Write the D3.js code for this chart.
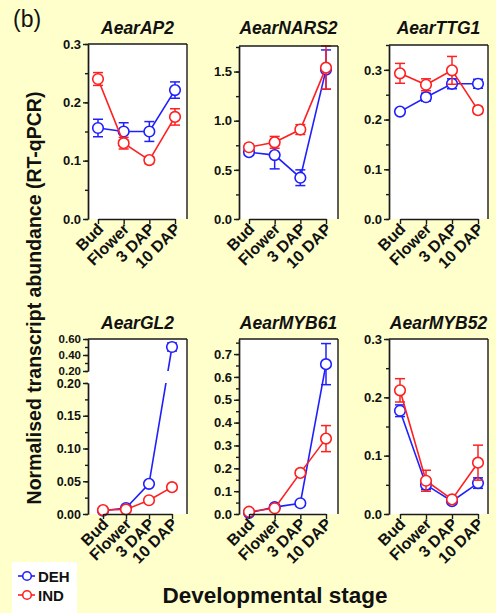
<!DOCTYPE html>
<meta charset="utf-8">
<style>
  body, html { margin:0; padding:0; background:#ffffcc; }
  svg { display:block; }
  text { font-family: "Liberation Sans", Arial, Helvetica, sans-serif; font-weight:bold; fill:#111; }
</style>
<body>
<svg width="496" height="613"></svg>
<script src="https://d3js.org/d3.v7.min.js"></script>
<script>

var stages = ["Bud", "Flower", "3 DAP", "10 DAP"];
var seriesNames = ["DEH", "IND"];

// means and error (+/-) for each gene, DEH then IND
var ap2Deh = [0.156, 0.150, 0.150, 0.221], ap2DehErr = [0.015, 0.015, 0.017, 0.014];
var ap2Ind = [0.240, 0.130, 0.101, 0.175], ap2IndErr = [0.011, 0.010, 0.006, 0.014];

var nars2Deh = [0.68, 0.65, 0.42, 1.52], nars2DehErr = [0.03, 0.14, 0.08, 0.20];
var nars2Ind = [0.73, 0.78, 0.91, 1.54], nars2IndErr = [0.03, 0.06, 0.05, 0.22];

var ttg1Deh = [0.216, 0.245, 0.272, 0.272], ttg1DehErr = [0.004, 0.008, 0.010, 0.009];
var ttg1Ind = [0.293, 0.270, 0.299, 0.219], ttg1IndErr = [0.020, 0.012, 0.028, 0.007];

var gl2Deh = [0.005, 0.009, 0.046, 0.50], gl2DehErr = [0.001, 0.002, 0.002, 0.05];
var gl2Ind = [0.006, 0.007, 0.021, 0.041], gl2IndErr = [0.001, 0.001, 0.002, 0.004];

var myb61Deh = [0.005, 0.030, 0.047, 0.656], myb61DehErr = [0.002, 0.004, 0.004, 0.090];
var myb61Ind = [0.010, 0.025, 0.180, 0.330], myb61IndErr = [0.003, 0.006, 0.012, 0.057];

var myb52Deh = [0.177, 0.050, 0.022, 0.053], myb52DehErr = [0.010, 0.008, 0.003, 0.009];
var myb52Ind = [0.212, 0.057, 0.025, 0.088], myb52IndErr = [0.020, 0.018, 0.004, 0.030];

// y ticks
var ticks01 = [0, 0.1, 0.2, 0.3];
var ticksNars = [0, 0.5, 1.0, 1.5];
var ticksMyb61 = [0, 0.1, 0.2, 0.3, 0.4, 0.5, 0.6, 0.7];
var ticksGl2Low = [0, 0.05, 0.10, 0.15, 0.20];
var ticksGl2High = [0.20, 0.40, 0.60];

var colors = {DEH: "#2020ff", IND: "#ff2020"};

var panels = [
  {gene: "AearAP2", deh: ap2Deh, dehErr: ap2DehErr, ind: ap2Ind, indErr: ap2IndErr,
   x0: 88, y0: 44, max: 0.3, ticks: ticks01, minor: 0.05, fmt: ".1f", pad: [10, 12]},
  {gene: "AearNARS2", deh: nars2Deh, dehErr: nars2DehErr, ind: nars2Ind, indErr: nars2IndErr,
   x0: 239, y0: 46, max: 1.76, ticks: ticksNars, minor: 0.25, fmt: ".1f", pad: [10, 12]},
  {gene: "AearTTG1", deh: ttg1Deh, dehErr: ttg1DehErr, ind: ttg1Ind, indErr: ttg1IndErr,
   x0: 389, y0: 45, max: 0.35, ticks: ticks01, minor: 0.05, fmt: ".1f", pad: [11, 10]},
  {gene: "AearGL2", deh: gl2Deh, dehErr: gl2DehErr, ind: gl2Ind, indErr: gl2IndErr,
   x0: 88, y0: 339, broken: true, fmt: ".2f", pad: [15, 15]},
  {gene: "AearMYB61", deh: myb61Deh, dehErr: myb61DehErr, ind: myb61Ind, indErr: myb61IndErr,
   x0: 239, y0: 339, max: 0.766, ticks: ticksMyb61, minor: 0.05, fmt: ".1f", pad: [10, 12]},
  {gene: "AearMYB52", deh: myb52Deh, dehErr: myb52DehErr, ind: myb52Ind, indErr: myb52IndErr,
   x0: 389, y0: 339, max: 0.3, ticks: ticks01, minor: 0.05, fmt: ".1f", pad: [11, 10]}
];

var W = 99, bottom0 = 219, bottom1 = 514;
var svg = d3.select("svg");

svg.append("text").attr("x", 13).attr("y", 27)
  .style("font-size", "23px").style("font-weight", "normal").text("(b)");

panels.forEach(function(p, pi) {
  var H = (pi < 3 ? bottom0 : bottom1) - p.y0;
  var g = svg.append("g").attr("transform", "translate(" + p.x0 + "," + p.y0 + ")");

  var x = d3.scalePoint().domain(stages).range([p.pad[0], W - p.pad[1]]);
  var yMap, lowY, highY;
  var gapTop = 32, gapBot = 44;
  if (p.broken) {
    lowY = d3.scaleLinear().domain([0, 0.2]).range([H, gapBot]);
    highY = d3.scaleLinear().domain([0.2, 0.6]).range([gapTop, 0]);
    yMap = function(v) { return v <= 0.2 ? lowY(v) : highY(v); };
  } else {
    yMap = d3.scaleLinear().domain([0, p.max]).range([H, 0]);
  }

  g.append("rect").attr("width", W).attr("height", H).attr("fill", "#fff");

  // title
  svg.append("text")
    .attr("x", p.x0 + W / 2).attr("y", (pi < 3 ? 44 : 339) - 10)
    .attr("text-anchor", "middle")
    .style("font-size", "17.5px").style("font-style", "italic")
    .text(p.gene);

  // clip for broken axis gap
  var clipId = "clip" + pi;
  var clip = svg.append("clipPath").attr("id", clipId);
  if (p.broken) {
    clip.append("rect").attr("x", -20).attr("y", -20).attr("width", W + 40).attr("height", gapTop + 20);
    clip.append("rect").attr("x", -20).attr("y", gapBot).attr("width", W + 40).attr("height", H);
  } else {
    clip.append("rect").attr("x", -20).attr("y", -20).attr("width", W + 40).attr("height", H + 40);
  }

  var line = d3.line()
    .x(function(d, i) { return x(stages[i]); })
    .y(function(d) { return yMap(d); });

  var sets = [
    {name: "DEH", m: p.deh, e: p.dehErr},
    {name: "IND", m: p.ind, e: p.indErr}
  ];

  sets.forEach(function(s) {
    var c = colors[s.name];
    var sg = g.append("g");
    sg.append("path").datum(s.m)
      .attr("d", line).attr("fill", "none")
      .attr("stroke", c).attr("stroke-width", 1.6)
      .attr("clip-path", "url(#" + clipId + ")");

    var eb = sg.selectAll(".eb").data(s.m).enter().append("g");
    eb.append("line")
      .attr("x1", function(d, i) { return x(stages[i]); })
      .attr("x2", function(d, i) { return x(stages[i]); })
      .attr("y1", function(d, i) { return yMap(d - s.e[i]); })
      .attr("y2", function(d, i) { return yMap(d + s.e[i]); })
      .attr("stroke", c).attr("stroke-width", 1.5);
    [-1, 1].forEach(function(sign) {
      eb.append("line")
        .attr("x1", function(d, i) { return x(stages[i]) - 5; })
        .attr("x2", function(d, i) { return x(stages[i]) + 5; })
        .attr("y1", function(d, i) { return yMap(d + sign * s.e[i]); })
        .attr("y2", function(d, i) { return yMap(d + sign * s.e[i]); })
        .attr("stroke", c).attr("stroke-width", 1.5);
    });

    sg.selectAll("circle").data(s.m).enter().append("circle")
      .attr("cx", function(d, i) { return x(stages[i]); })
      .attr("cy", function(d) { return yMap(d); })
      .attr("r", 5.3)
      .attr("fill", "#fff").attr("stroke", c).attr("stroke-width", 1.6);
  });

  // frame (top, right)
  var fr = g.append("g").attr("stroke", "#1a1a1a").attr("stroke-width", 1.4);
  fr.append("line").attr("x1", 0).attr("x2", W).attr("y1", 0).attr("y2", 0);
  fr.append("line").attr("x1", W).attr("x2", W).attr("y1", 0).attr("y2", H);

  // x axis
  var xa = g.append("g").attr("transform", "translate(0," + H + ")")
    .call(d3.axisBottom(x).tickSize(5).tickSizeOuter(0).tickFormat(""));
  xa.selectAll("path, line").attr("stroke", "#1a1a1a").attr("stroke-width", 1.4);
  xa.selectAll(".tick").append("text")
    .attr("transform", "translate(2,7) rotate(-45)")
    .attr("text-anchor", "end").attr("dy", "0.35em")
    .style("font-size", "16px")
    .text(function(d) { return d; });

  // y axis
  function styleAxis(a, size) {
    a.select(".domain").attr("stroke", "#1a1a1a").attr("stroke-width", 1.4);
    a.selectAll(".tick line").attr("stroke", "#1a1a1a").attr("stroke-width", 1.4);
    a.selectAll(".tick text").style("font-size", (size || 13) + "px").attr("fill", "#111")
      .style("font-family", "'Liberation Sans', Arial, sans-serif").style("font-weight", "bold");
  }
  var fmt = d3.format(p.fmt);
  if (p.broken) {
    var minorLow = d3.range(0, 0.2001, 0.025);
    styleAxis(g.append("g").call(d3.axisLeft(lowY).tickValues(minorLow).tickSize(3).tickFormat("").tickSizeOuter(0)));
    styleAxis(g.append("g").call(d3.axisLeft(lowY).tickValues(ticksGl2Low).tickSize(5).tickPadding(2).tickFormat(fmt).tickSizeOuter(0)), 12.5);
    var minorHigh = d3.range(0.2, 0.6001, 0.1);
    styleAxis(g.append("g").call(d3.axisLeft(highY).tickValues(minorHigh).tickSize(3).tickFormat("").tickSizeOuter(0)));
    var hi = g.append("g").call(d3.axisLeft(highY).tickValues(ticksGl2High).tickSize(5).tickPadding(2).tickFormat(fmt).tickSizeOuter(0));
    styleAxis(hi, 11.5);
    hi.selectAll(".tick text").attr("dy", "0.28em");
  } else {
    var minor = d3.range(0, p.max + 1e-6, p.minor);
    styleAxis(g.append("g").call(d3.axisLeft(yMap).tickValues(minor).tickSize(3).tickFormat("").tickSizeOuter(0)));
    styleAxis(g.append("g").call(d3.axisLeft(yMap).tickValues(p.ticks).tickSize(5).tickPadding(2).tickFormat(fmt).tickSizeOuter(0)));
  }
});

// axis titles
svg.append("text")
  .attr("transform", "translate(41,298) rotate(-90)")
  .attr("text-anchor", "middle")
  .style("font-size", "19.5px")
  .text("Normalised transcript abundance (RT-qPCR)");

svg.append("text")
  .attr("x", 275).attr("y", 603)
  .attr("text-anchor", "middle")
  .style("font-size", "22.5px")
  .text("Developmental stage");

// legend
var lg = svg.append("g").attr("transform", "translate(12,562)");
lg.append("rect").attr("width", 65).attr("height", 51).attr("fill", "#fff");
seriesNames.forEach(function(n, i) {
  var yy = 14 + i * 19;
  var c = colors[n];
  lg.append("line").attr("x1", 6).attr("x2", 23).attr("y1", yy).attr("y2", yy)
    .attr("stroke", c).attr("stroke-width", 1.6);
  lg.append("circle").attr("cx", 15).attr("cy", yy).attr("r", 4.3)
    .attr("fill", "#fff").attr("stroke", c).attr("stroke-width", 1.6);
  lg.append("text").attr("x", 26).attr("y", yy + 5.5).style("font-size", "15px").text(n);
});

</script>
</body>
